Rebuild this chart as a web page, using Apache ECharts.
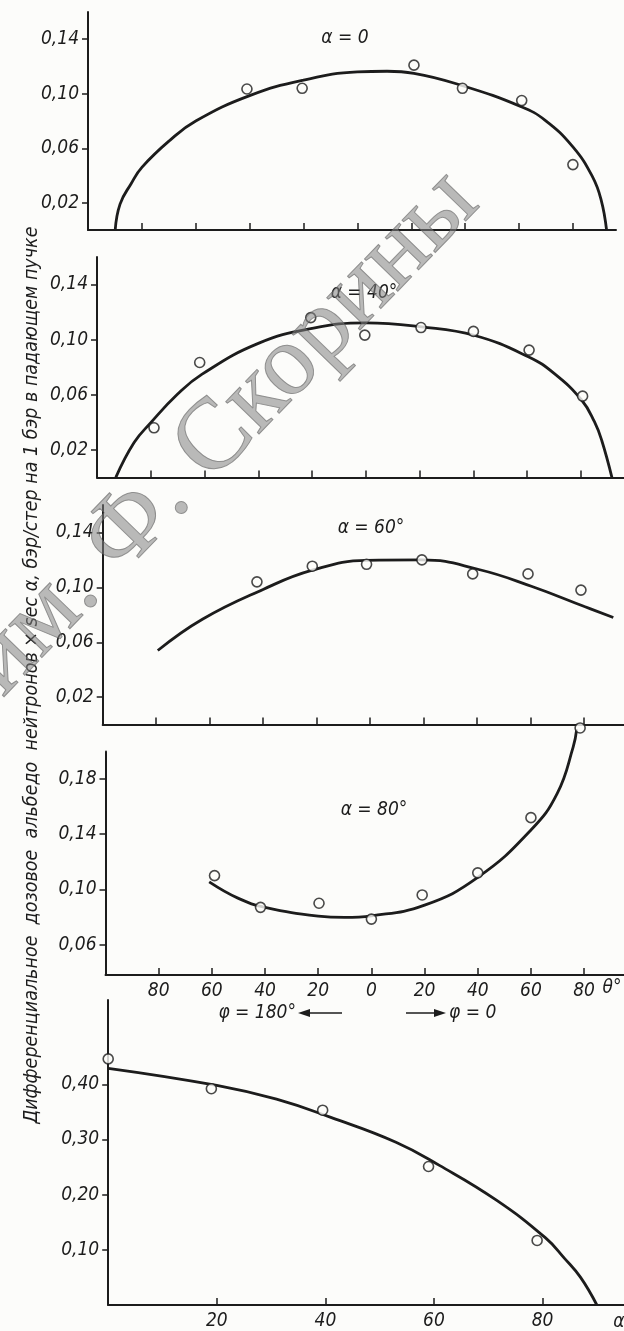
<!DOCTYPE html>
<html><head><meta charset="utf-8">
<script src="https://cdn.jsdelivr.net/npm/echarts@6/dist/echarts.min.js"></script>
<style>html,body{margin:0;padding:0;background:#fcfcfa}#c{width:624px;height:1331px}</style>
</head><body><div id="c"></div>
<script>
// ---- data ----
const thetaTicks = [-80, -60, -40, -20, 0, 20, 40, 60, 80];
const alphaTicks = [20, 40, 60, 80];
const yTicksA = [0.02, 0.06, 0.10, 0.14];
const yTicks80 = [0.06, 0.10, 0.14, 0.18];
const yTicksB = [0.10, 0.20, 0.30, 0.40];
const panelLabels = ['α = 0', 'α = 40°', 'α = 60°', 'α = 80°'];

// α = 0
const a0PtsX = [-41, -20.5, 21, 39, 61, 80];
const a0PtsY = [0.1035, 0.104, 0.121, 0.104, 0.095, 0.048];
const a0CurveX = [-89.9, -88.1, -84, -80, -69.5, -60, -40, -20, 0, 11, 21, 39.4, 60.8, 69.6, 80, 87.3, 90.5, 92.5];
const a0CurveY = [0, 0.019, 0.034, 0.046, 0.066, 0.080, 0.0986, 0.110, 0.116, 0.1165, 0.115, 0.1057, 0.0905, 0.0807, 0.061, 0.039, 0.022, 0];

// α = 40°
const a40PtsX = [-78.8, -61.8, -20.5, -0.4, 20.5, 40, 60.7, 80.6];
const a40PtsY = [0.036, 0.0834, 0.116, 0.1033, 0.1088, 0.106, 0.0924, 0.059];
const a40CurveX = [-93, -86.2, -80, -70, -60.9, -40, -20, 0, 20.7, 40.5, 60.4, 70, 80.3, 85, 87.7, 91.5];
const a40CurveY = [0, 0.0253, 0.0397, 0.0605, 0.075, 0.0973, 0.1081, 0.1122, 0.1093, 0.103, 0.0876, 0.0755, 0.056, 0.0404, 0.027, 0];

// α = 60°
const a60PtsX = [-42.3, -21.6, -1.3, 19.4, 38.4, 59.1, 78.9];
const a60PtsY = [0.104, 0.1154, 0.1168, 0.120, 0.1098, 0.1098, 0.098];
const a60CurveX = [-79.4, -62.7, -40, -21.6, -1.3, 19.4, 40.7, 60.6, 80.2, 91];
const a60CurveY = [0.054, 0.0768, 0.0985, 0.1125, 0.1197, 0.120, 0.113, 0.1006, 0.086, 0.078];

// α = 80°
const a80PtsX = [-59, -41.7, -19.7, 0, 19.1, 40, 60, 78.5];
const a80PtsY = [0.110, 0.087, 0.090, 0.0785, 0.096, 0.112, 0.152, 0.217];
const a80CurveX = [-61, -50, -40, -20, -10, 0, 20, 40, 60, 69.9, 75.9, 77.2];
const a80CurveY = [0.1055, 0.0935, 0.087, 0.0807, 0.0797, 0.0809, 0.0886, 0.1087, 0.143, 0.1696, 0.2033, 0.216];

// bottom panel (abscissa α)
const bPtsX = [0, 19, 39.5, 59, 79];
const bPtsY = [0.446, 0.392, 0.353, 0.251, 0.117];
const bCurveX = [0, 20, 31, 41, 53, 61, 71.5, 80.5, 84, 87, 90];
const bCurveY = [0.429, 0.398, 0.373, 0.340, 0.295, 0.253, 0.190, 0.122, 0.085, 0.050, 0];

// ---- chart ----
const F = "'Liberation Sans Narrow','DejaVu Sans Condensed',sans-serif";
const INK = '#1c1c1c';
const zip = (xs, ys) => xs.map((x, i) => [x, ys[i]]);

const grids = [
  {left: 88, top: 12, width: 528, height: 218},
  {left: 97, top: 257, width: 528, height: 220.4},
  {left: 102.7, top: 505, width: 525.5, height: 219.6},
  {left: 105.5, top: 751.4, width: 523.6, height: 223.6},
  {left: 108.2, top: 1000, width: 516.8, height: 307.3}
];
const xRanges = [[-100, 96], [-100, 96], [-100, 95], [-100, 95], [0, 95]];
const yRanges = [[0, 0.16], [0, 0.16], [0, 0.16], [0.038, 0.20], [0, 0.5527]];
const yTickSets = [yTicksA, yTicksA, yTicksA, yTicks80, yTicksB];
const curves = [[a0CurveX, a0CurveY], [a40CurveX, a40CurveY], [a60CurveX, a60CurveY], [a80CurveX, a80CurveY], [bCurveX, bCurveY]];
const points = [[a0PtsX, a0PtsY], [a40PtsX, a40PtsY], [a60PtsX, a60PtsY], [a80PtsX, a80PtsY], [bPtsX, bPtsY]];

const labelStyle = {color: INK, fontFamily: F, fontStyle: 'italic', fontSize: 19};

const xAxis = grids.map((g, i) => {
  const ticks = i === 4 ? alphaTicks : thetaTicks;
  return {
    type: 'value', gridIndex: i, min: xRanges[i][0], max: xRanges[i][1],
    axisLine: {show: true, onZero: false, lineStyle: {color: INK, width: 2}},
    axisTick: {show: true, inside: true, length: 7, customValues: ticks, lineStyle: {color: INK, width: 1.5}},
    axisLabel: Object.assign({show: i >= 3, customValues: ticks, margin: 7,
      formatter: v => String(Math.abs(v))}, labelStyle),
    splitLine: {show: false}
  };
});
const yAxis = grids.map((g, i) => ({
  type: 'value', gridIndex: i, min: yRanges[i][0], max: yRanges[i][1],
  axisLine: {show: true, onZero: false, lineStyle: {color: INK, width: 2}},
  axisTick: {show: true, inside: false, length: 6, customValues: yTickSets[i], lineStyle: {color: INK, width: 1.5}},
  axisLabel: Object.assign({customValues: yTickSets[i], margin: 9,
    formatter: v => v.toFixed(2).replace('.', ',')}, labelStyle),
  splitLine: {show: false}
}));

const series = [];
grids.forEach((g, i) => {
  series.push({
    type: 'line', xAxisIndex: i, yAxisIndex: i, data: zip(curves[i][0], curves[i][1]),
    smooth: 0.45, showSymbol: false, clip: false, silent: true,
    lineStyle: {color: INK, width: 2.8}, z: 2
  });
  series.push({
    type: 'scatter', xAxisIndex: i, yAxisIndex: i, data: zip(points[i][0], points[i][1]),
    symbol: 'circle', symbolSize: 10, clip: false,
    itemStyle: {color: '#fcfcfa', borderColor: INK, borderWidth: 1.6}, z: 3
  });
});

const txt = (x, y, text, extra) => ({type: 'text', x, y, style: Object.assign({text, fill: INK, font: "italic 19px " + F, textAlign: 'center', textVerticalAlign: 'middle'}, extra || {})});
const annPos = [[345, 38], [364, 293], [371, 528], [374, 810]];
const graphic = [
  ...panelLabels.map((t, i) => txt(annPos[i][0], annPos[i][1], t)),
  txt(612, 988, 'θ°'),
  txt(619, 1322, 'α'),
  txt(296, 1013, 'φ = 180°', {textAlign: 'right'}),
  txt(449, 1013, 'φ = 0', {textAlign: 'left'}),
  {type: 'line', shape: {x1: 302, y1: 1013, x2: 342, y2: 1013}, style: {stroke: INK, lineWidth: 1.6}},
  {type: 'polygon', shape: {points: [[298, 1013], [310, 1009], [310, 1017]]}, style: {fill: INK}},
  {type: 'line', shape: {x1: 406, y1: 1013, x2: 440, y2: 1013}, style: {stroke: INK, lineWidth: 1.6}},
  {type: 'polygon', shape: {points: [[446, 1013], [434, 1009], [434, 1017]]}, style: {fill: INK}},
  {type: 'text', x: 32, y: 675, rotation: Math.PI / 2,
    style: {text: 'Дифференциальное  дозовое  альбедо  нейтронов × sec α, бэр/стер на 1 бэр в падающем пучке',
      fill: INK, font: "italic 19.5px 'DejaVu Sans Condensed', sans-serif", textAlign: 'center', textVerticalAlign: 'middle'}},
  {type: 'text', x: 223, y: 433, rotation: 0.8, z: 100,
    style: {text: 'им. Ф. Скорины', fill: 'rgba(130,130,130,0.55)', stroke: 'rgba(80,80,80,0.6)', lineWidth: 1,
      font: "101px 'Liberation Serif', serif", textAlign: 'center', textVerticalAlign: 'middle'}}
];

const chart = echarts.init(document.getElementById('c'), null, {renderer: 'canvas'});
chart.setOption({
  backgroundColor: '#fcfcfa',
  animation: false,
  grid: grids,
  xAxis, yAxis, series, graphic
});
</script></body></html>
